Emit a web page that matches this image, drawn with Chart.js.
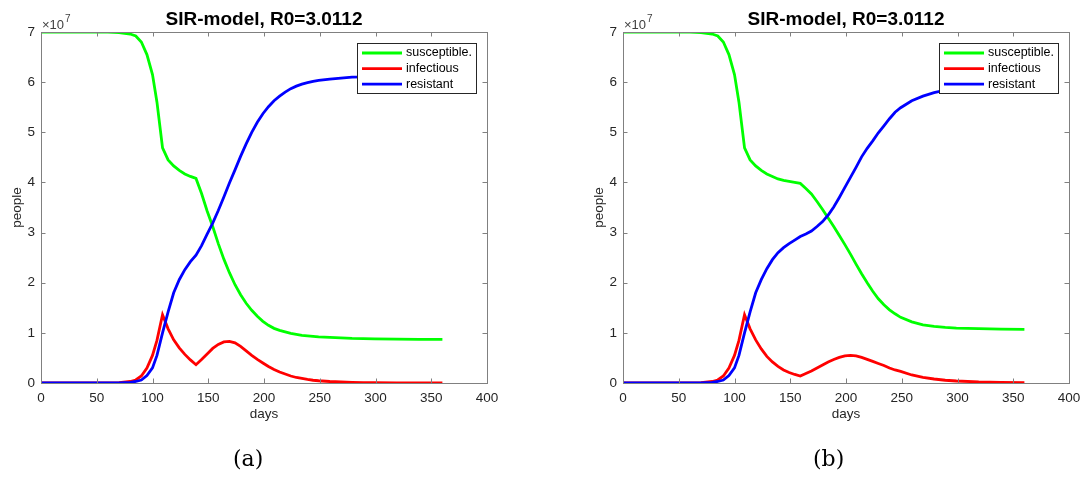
<!DOCTYPE html>
<html>
<head>
<meta charset="utf-8">
<script src="https://cdn.jsdelivr.net/npm/chart.js@4.4.0/dist/chart.umd.min.js"></script>
<style>
  body { margin: 0; background: #fff; width: 1082px; height: 477px; overflow: hidden; position: relative; }
  .box { position: absolute; top: 0; width: 541px; height: 477px; }
  .cap { position: absolute; top: 446px; font: 22px "DejaVu Serif", serif; color: #000; }
</style>
</head>
<body>
<div class="box" style="left:0px"><canvas id="chartA" width="541" height="477"></canvas></div>
<div class="box" style="left:582px"><canvas id="chartB" width="541" height="477"></canvas></div>
<div class="cap" style="left:233px">(a)</div>
<div class="cap" style="left:813px">(b)</div>

<script>
// values in units of 1e7 people
var titleText = 'SIR-model, R0=3.0112';
var legendLabels = ['susceptible.', 'infectious', 'resistant'];
var seriesColors = ['#00ff00', '#ff0000', '#0000ff'];

var daysA = [0, 40, 60, 70, 80, 85, 90, 95, 100, 104, 109, 114, 119, 124, 129, 134, 139, 144, 149, 154, 159, 164, 169, 174, 179, 184, 189, 194, 199, 204, 209, 214, 219, 224, 229, 234, 239, 244, 249, 259, 269, 279, 289, 299, 319, 339, 360];
var susA = [7, 7, 6.998, 6.99, 6.96, 6.92, 6.8, 6.55, 6.15, 5.6, 4.69, 4.45, 4.33, 4.24, 4.17, 4.12, 4.08, 3.78, 3.43, 3.12, 2.78, 2.47, 2.2, 1.96, 1.76, 1.59, 1.45, 1.33, 1.23, 1.15, 1.09, 1.05, 1.02, 0.99, 0.97, 0.95, 0.94, 0.93, 0.92, 0.91, 0.9, 0.89, 0.885, 0.88, 0.875, 0.872, 0.87];
var infA = [0, 0, 0.002, 0.008, 0.03, 0.06, 0.14, 0.3, 0.55, 0.85, 1.36, 1.08, 0.86, 0.7, 0.57, 0.46, 0.365, 0.47, 0.58, 0.69, 0.77, 0.82, 0.83, 0.8, 0.73, 0.64, 0.55, 0.47, 0.4, 0.33, 0.27, 0.22, 0.18, 0.14, 0.11, 0.09, 0.07, 0.055, 0.045, 0.03, 0.02, 0.012, 0.008, 0.005, 0.003, 0.002, 0.001];
var resA = [0, 0, 0, 0.002, 0.01, 0.03, 0.06, 0.15, 0.3, 0.55, 1.0, 1.42, 1.8, 2.06, 2.26, 2.42, 2.55, 2.74, 2.97, 3.19, 3.44, 3.71, 3.99, 4.25, 4.52, 4.77, 5.0, 5.2, 5.37, 5.51, 5.63, 5.72, 5.8, 5.87, 5.92, 5.96, 5.99, 6.015, 6.035, 6.06, 6.08, 6.1, 6.105, 6.115, 6.122, 6.126, 6.13];

var daysB = [0, 40, 60, 70, 80, 85, 90, 95, 100, 104, 109, 114, 119, 124, 129, 134, 139, 144, 149, 154, 159, 164, 169, 174, 179, 184, 189, 194, 199, 204, 209, 214, 219, 224, 229, 234, 239, 244, 249, 259, 269, 279, 289, 299, 319, 339, 360];
var susB = [7, 7, 6.998, 6.99, 6.96, 6.92, 6.8, 6.55, 6.15, 5.6, 4.69, 4.45, 4.33, 4.24, 4.17, 4.12, 4.07, 4.04, 4.02, 4.0, 3.98, 3.88, 3.77, 3.62, 3.46, 3.29, 3.12, 2.94, 2.76, 2.57, 2.37, 2.18, 2.0, 1.83, 1.68, 1.56, 1.46, 1.38, 1.31, 1.22, 1.16, 1.13, 1.11, 1.095, 1.085, 1.075, 1.07];
var infB = [0, 0, 0.002, 0.008, 0.03, 0.06, 0.14, 0.3, 0.55, 0.85, 1.36, 1.08, 0.86, 0.68, 0.53, 0.42, 0.33, 0.26, 0.21, 0.17, 0.14, 0.19, 0.24, 0.3, 0.36, 0.42, 0.47, 0.51, 0.54, 0.55, 0.54, 0.51, 0.47, 0.43, 0.39, 0.35, 0.3, 0.26, 0.23, 0.16, 0.11, 0.08, 0.055, 0.04, 0.02, 0.012, 0.008];
var resB = [0, 0, 0, 0.002, 0.01, 0.03, 0.06, 0.15, 0.3, 0.55, 1.0, 1.42, 1.8, 2.06, 2.28, 2.46, 2.6, 2.7, 2.78, 2.85, 2.92, 2.97, 3.03, 3.12, 3.22, 3.35, 3.51, 3.7, 3.9, 4.1, 4.3, 4.51, 4.68, 4.83, 4.99, 5.13, 5.27, 5.4, 5.49, 5.63, 5.72, 5.79, 5.84, 5.87, 5.9, 5.91, 5.92];

var FONT = '"Liberation Sans", Arial, sans-serif';

function toPoints(days, vals) {
    var pts = [];
    for (var i = 0; i < days.length; i++) {
        pts.push({ x: days[i], y: vals[i] * 1e7 });
    }
    return pts;
}

// box, inward ticks, title, exponent and legend, matlab style
var matlabDeco = {
    id: 'matlabDeco',
    afterDatasetsDraw: function (chart) {
        var ctx = chart.ctx;
        var a = chart.chartArea;
        var xs = chart.scales.x, ys = chart.scales.y;
        ctx.save();
        ctx.strokeStyle = '#808080';
        ctx.lineWidth = 1;
        ctx.strokeRect(Math.round(a.left) + 0.5, Math.round(a.top) + 0.5, Math.round(a.right - a.left), Math.round(a.bottom - a.top));
        ctx.beginPath();
        xs.ticks.forEach(function (t) {
            var px = Math.round(xs.getPixelForValue(t.value)) + 0.5;
            ctx.moveTo(px, a.bottom); ctx.lineTo(px, a.bottom - 4.5);
            ctx.moveTo(px, a.top); ctx.lineTo(px, a.top + 4.5);
        });
        ys.ticks.forEach(function (t) {
            var py = Math.round(ys.getPixelForValue(t.value)) + 0.5;
            ctx.moveTo(a.left, py); ctx.lineTo(a.left + 4.5, py);
            ctx.moveTo(a.right, py); ctx.lineTo(a.right - 4.5, py);
        });
        ctx.stroke();

        // title
        ctx.fillStyle = '#000';
        ctx.font = 'bold 19px ' + FONT;
        ctx.textAlign = 'center';
        ctx.textBaseline = 'alphabetic';
        ctx.fillText(titleText, (a.left + a.right) / 2, 25);

        // x10^7
        ctx.fillStyle = '#404040';
        ctx.textAlign = 'left';
        ctx.font = '13px ' + FONT;
        ctx.fillText('\u00d710', a.left + 1, 28.5);
        var w = ctx.measureText('\u00d710').width;
        ctx.font = '10px ' + FONT;
        ctx.fillText('7', a.left + 2 + w, 22);

        // legend
        var lw = 119, lh = 50;
        var lx = Math.round(a.right - 11 - lw), ly = 43;
        ctx.fillStyle = '#fff';
        ctx.fillRect(lx, ly, lw, lh);
        ctx.strokeStyle = '#262626';
        ctx.strokeRect(lx + 0.5, ly + 0.5, lw, lh);
        ctx.font = '12.5px ' + FONT;
        ctx.textBaseline = 'middle';
        for (var i = 0; i < legendLabels.length; i++) {
            var yy = ly + 10 + i * 15.6;
            ctx.strokeStyle = seriesColors[i];
            ctx.lineWidth = 2.8;
            ctx.beginPath();
            ctx.moveTo(lx + 5, yy); ctx.lineTo(lx + 45, yy);
            ctx.stroke();
            ctx.fillStyle = '#000';
            ctx.fillText(legendLabels[i], lx + 49, yy);
        }
        ctx.restore();
    }
};

function makeChart(id, days, sus, inf, res) {
    var series = [sus, inf, res];
    var datasets = [];
    for (var i = 0; i < 3; i++) {
        datasets.push({
            label: legendLabels[i],
            data: toPoints(days, series[i]),
            borderColor: seriesColors[i],
            borderWidth: 2.8,
            pointRadius: 0,
            tension: 0,
            fill: false,
            order: 2 - i
        });
    }
    return new Chart(document.getElementById(id), {
        type: 'line',
        data: { datasets: datasets },
        plugins: [matlabDeco],
        options: {
            responsive: false,
            animation: false,
            layout: { padding: { left: 0, right: 54, top: 32, bottom: 55 } },
            plugins: { legend: { display: false }, title: { display: false }, tooltip: { enabled: false } },
            scales: {
                x: {
                    type: 'linear', min: 0, max: 400,
                    ticks: { stepSize: 50, color: '#262626', font: { family: FONT, size: 13.5 }, padding: 7, maxRotation: 0 },
                    grid: { display: false, drawTicks: false },
                    border: { display: false },
                    title: { display: true, text: 'days', color: '#262626', font: { family: FONT, size: 13.5 }, padding: 0 },
                    afterFit: function (s) { s.height = 39; }
                },
                y: {
                    min: 0, max: 7e7,
                    ticks: {
                        stepSize: 1e7, color: '#262626', font: { family: FONT, size: 13.5 }, padding: 6,
                        callback: function (v) { return v / 1e7; }
                    },
                    grid: { display: false, drawTicks: false },
                    border: { display: false },
                    title: { display: true, text: 'people', color: '#262626', font: { family: FONT, size: 13.5 }, padding: { top: 9, bottom: 0 } },
                    afterFit: function (s) { s.width = 41; }
                }
            }
        }
    });
}

makeChart('chartA', daysA, susA, infA, resA);
makeChart('chartB', daysB, susB, infB, resB);
</script>
</body>
</html>
